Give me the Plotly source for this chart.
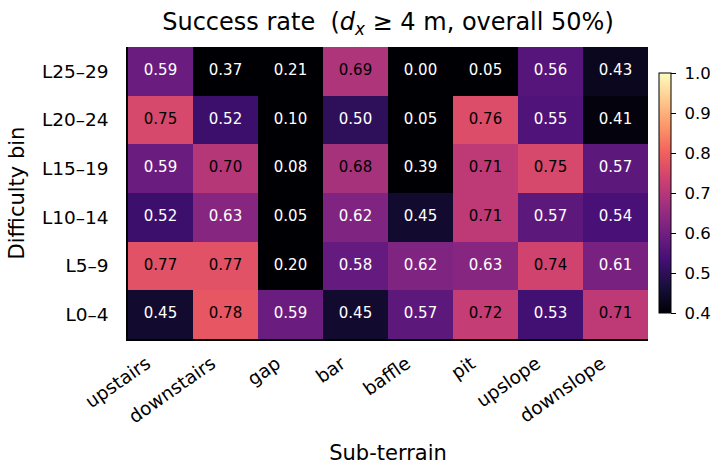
import plotly.graph_objects as go

terrains = ["upstairs", "downstairs", "gap", "bar", "baffle", "pit", "upslope", "downslope"]
bins = ["L0–4", "L5–9", "L10–14", "L15–19", "L20–24", "L25–29"]  # bottom to top

rate_L0_4   = [0.45, 0.78, 0.59, 0.45, 0.57, 0.72, 0.53, 0.71]
rate_L5_9   = [0.77, 0.77, 0.20, 0.58, 0.62, 0.63, 0.74, 0.61]
rate_L10_14 = [0.52, 0.63, 0.05, 0.62, 0.45, 0.71, 0.57, 0.54]
rate_L15_19 = [0.59, 0.70, 0.08, 0.68, 0.39, 0.71, 0.75, 0.57]
rate_L20_24 = [0.75, 0.52, 0.10, 0.50, 0.05, 0.76, 0.55, 0.41]
rate_L25_29 = [0.59, 0.37, 0.21, 0.69, 0.00, 0.05, 0.56, 0.43]

cbar_ticks = [0.4, 0.5, 0.6, 0.7, 0.8, 0.9, 1.0]

z = [rate_L0_4, rate_L5_9, rate_L10_14, rate_L15_19, rate_L20_24, rate_L25_29]

FONT = "DejaVu Sans"
W, H = 722, 474
L, R, T, B = 128, 74, 47, 135
PW, PH = W - L - R, H - T - B

fig = go.Figure()
fig.add_trace(go.Heatmap(
    x=terrains, y=bins, z=z,
    colorscale="Magma", zmin=0.4, zmax=1.0,
    hoverinfo="skip",
    colorbar=dict(
        x=(659 - L) / PW, xanchor="left", xref="paper", xpad=0, ypad=0,
        y=0.5, yanchor="middle", len=240 / PH, lenmode="fraction",
        thickness=12, outlinewidth=1, outlinecolor="black",
        ticks="outside", ticklen=5, tickwidth=1, tickcolor="black",
        tickvals=cbar_ticks,
        ticktext=["\u00a0" + f"{v:.1f}" for v in cbar_ticks],
        tickfont=dict(family=FONT, size=16.5, color="black"),
    ),
))

xs, ys, txt, cols = [], [], [], []
for b, row in zip(bins, z):
    for t, v in zip(terrains, row):
        xs.append(t); ys.append(b); txt.append(f"{v:.2f}")
        cols.append("black" if v > 0.65 else "white")

fig.add_trace(go.Scatter(
    x=xs, y=ys, text=txt, mode="text",
    textfont=dict(family=FONT, size=15, color=cols),
    hoverinfo="skip", showlegend=False,
))

fig.update_layout(
    width=W, height=H,
    margin=dict(l=L, r=R, t=T, b=B, autoexpand=False),
    paper_bgcolor="white", plot_bgcolor="white",
    title=dict(
        text="Success rate  (<i>d</i><sub><i>x</i></sub> ≥ 4 m, overall 50%)",
        x=(L + PW / 2) / W, xanchor="center", y=1 - 22 / H, yanchor="middle",
        font=dict(family=FONT, size=24, color="black"),
    ),
    font=dict(family=FONT, color="black"),
    showlegend=False,
)
fig.update_xaxes(
    type="category", categoryorder="array", categoryarray=terrains,
    showline=True, linecolor="black", linewidth=1.5, mirror=False,
    ticks="", tickangle=-35, showgrid=False, zeroline=False,
    ticklabelstandoff=5, ticklabelshift=-14,
    tickfont=dict(family=FONT, size=18.5, color="black"),
    title=dict(text="Sub-terrain", font=dict(family=FONT, size=21, color="black"), standoff=19),
    range=[-0.5, 7.5],
)
fig.update_yaxes(
    type="category", categoryorder="array", categoryarray=bins,
    showline=True, linecolor="black", linewidth=1.5, mirror=False,
    ticks="", showgrid=False, zeroline=False,
    ticklabelstandoff=14,
    tickfont=dict(family=FONT, size=18.5, color="black"),
    title=dict(text="Difficulty bin", font=dict(family=FONT, size=21, color="black"), standoff=12),
    range=[-0.5, 5.5],
)

fig.write_html("out.html", config={"displayModeBar": False},
               post_script="document.body.style.margin='0';")
